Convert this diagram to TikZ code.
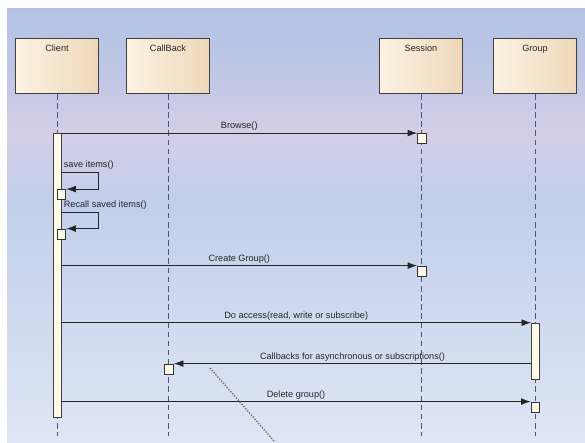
\documentclass[tikz,border=0pt]{standalone}
\usepackage{fontspec}
\setmainfont{Liberation Sans}
\usepackage{xcolor}
\usetikzlibrary{arrows.meta,positioning}

\definecolor{bgtop}{RGB}{178,194,230}
\definecolor{bgpink}{RGB}{212,206,230}
\definecolor{bgmid}{RGB}{194,206,234}
\definecolor{bgbot}{RGB}{222,230,244}
\definecolor{headl}{RGB}{252,242,226}
\definecolor{headr}{RGB}{238,216,186}
\definecolor{actc}{RGB}{255,250,232}
\definecolor{lifec}{RGB}{72,86,120}
% the filled path covers 25bp..75bp of the shading
\pgfdeclareverticalshading{bgshade}{100bp}{color(0bp)=(bgbot); color(25bp)=(bgbot); color(53bp)=(bgmid); color(61bp)=(bgpink); color(66bp)=(bgtop!50!bgpink); color(75bp)=(bgtop); color(100bp)=(bgtop)}

\begin{document}
\begin{tikzpicture}[x=0.025cm,y=-0.025cm,
  head/.style={draw=black!75,line width=0.6pt,left color=headl,right color=headr,minimum width=2.075cm,minimum height=1.375cm,inner sep=0pt},
  life/.style={draw=lifec,line width=0.6pt,dash pattern=on 4pt off 2.5pt},
  actbar/.style={draw=black!75,fill=actc,line width=0.5pt,minimum width=0.2cm,inner sep=0pt},
  exbox/.style={draw=black!80,fill=actc,line width=0.6pt,minimum width=0.22cm,minimum height=0.25cm,inner sep=0pt},
  msg/.style={-{Latex[length=2.4mm,width=1.7mm]},line width=0.6pt,draw=black!85},
  lbl/.style={font=\fontsize{6.5}{7}\selectfont,inner sep=1.5pt,text=black!85},
  notelink/.style={densely dotted,line width=1pt,draw=black!55}
]
\fill[white] (0,0) rectangle (585,442);
\useasboundingbox (0,0) rectangle (585,442);
\fill[shading=bgshade] (7,8) rectangle (585,442);

% lifeline heads
\node[head,label={[lbl,below=3pt]north:Client}] (client) at (57,66) {};
\node[head,label={[lbl,below=3pt]north:CallBack}] (callback) at (168,66) {};
\node[head,label={[lbl,below=3pt]north:Session}] (session) at (421,66) {};
\node[head,label={[lbl,below=3pt]north:Group}] (group) at (535,66) {};

\coordinate (bottom) at (0,436);
\draw[life] (client.south) -- (client.south |- bottom);
\draw[life] (callback.south) -- (callback.south |- bottom);
\draw[life] (session.south) -- (session.south |- bottom);
\draw[life] (group.south) -- (group.south |- bottom);

% activations
\node[actbar,minimum height=7.1cm] (clientbar) at (57,275) {};
\node[actbar,minimum height=1.4cm] (groupbar) at (535.5,351) {};

\node[exbox] (browsebox) at (422,138.5) {};
\node[exbox] (savebox) at (61.5,194.5) {};
\node[exbox] (recallbox) at (61.5,234) {};
\node[exbox] (createbox) at (422,271) {};
\node[exbox] (cbbox) at (169,369) {};
\node[exbox] (deletebox) at (535.5,407) {};

% messages
\draw[msg] (clientbar.east |- browsebox.north) -- node[lbl,above] {Browse()} (browsebox.north west);
\draw[msg] (clientbar.east |- 0,172) node[lbl,above right] {save items()} -- ++(37,0) |- (savebox.north east);
\draw[msg] (clientbar.east |- 0,212) node[lbl,above right] {Recall saved items()} -- ++(37,0) |- (recallbox.north east);
\draw[msg] (clientbar.east |- createbox.north) -- node[lbl,above] {Create Group()} (createbox.north west);
\draw[msg] (clientbar.east |- groupbar.north) -- node[lbl,above] {Do access(read, write or subscribe)} (groupbar.north west);
\draw[msg] (groupbar.west |- cbbox.north) -- node[lbl,above] {Callbacks for asynchronous or subscriptions()} (cbbox.north east);
\draw[msg] (clientbar.east |- deletebox.north) -- node[lbl,above] {Delete group()} (deletebox.north west);

\coordinate (notehead) at (210,368);
\coordinate (notetail) at (275,442);
\draw[notelink] (notehead) -- (notetail);
\end{tikzpicture}
\end{document}
